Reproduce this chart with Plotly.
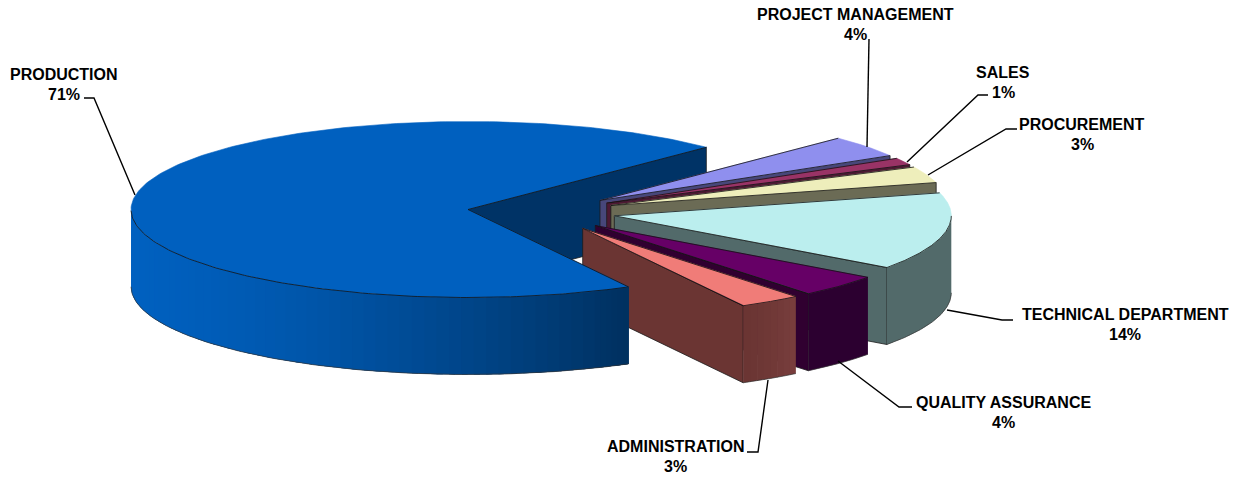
import numpy as np
import plotly.graph_objects as go

# ---- data, in the pie's drawing order (counter-clockwise from START_DEG)
categories = ["PRODUCTION", "ADMINISTRATION", "QUALITY ASSURANCE", "TECHNICAL DEPARTMENT",
              "PROCUREMENT", "SALES", "PROJECT MANAGEMENT"]
values = [70.4, 3.0, 4.1, 14.2, 3.0, 1.3, 4.0]
percent_labels = ["71%", "3%", "4%", "14%", "3%", "1%", "4%"]

# ---- style
top_colors = ["#0060BF", "#F07C78", "#660066", "#BBEEEE", "#EEEEBB", "#993366", "#8F8FEE"]
wall_colors = ["#003366", "#6B3533", "#300030", "#526A6A", "#6B6B55", "#4D1933", "#47477A"]
rim_from = ["#0060BF", "#6B3533", "#2C0030", "#526A6A", "#6B6B55", "#4D1933", "#47477A"]
rim_to = ["#00305F", "#7A3F3E", "#2C0030", "#526A6A", "#6B6B55", "#4D1933", "#47477A"]
label_x = [64, 675, 1003, 1125, 1082, 1003, 855]
label_y = [74, 446, 402, 314, 124, 72, 14]
leaders_x = [[84, 94, 135], [747, 758, 768], [912, 899, 838], [1013, 1002, 947],
             [1017, 1006, 928], [988, 978, 907], [869, 867]]
leaders_y = [[98, 98, 195], [452, 452, 380], [407, 407, 361], [320, 320, 310],
             [129, 129, 175], [95, 95, 162], [39, 147]]

START_DEG = 45.0
CX, CY, RX, RY = 541.4, 212.3, 337.0, 88.0
PULL = 0.22
DEPTH = 77.0

fracs = np.array(values) / sum(values)
edges = START_DEG + 360 * np.concatenate([[0], np.cumsum(fracs)])


def hex2rgb(h):
    return np.array([int(h[i:i + 2], 16) for i in (1, 3, 5)], float)


def mix(a, b, t):
    c = hex2rgb(a) * (1 - t) + hex2rgb(b) * t
    return "rgb(%d,%d,%d)" % tuple(c.round())


def apex(i):
    m = np.radians((edges[i] + edges[i + 1]) / 2)
    return CX + PULL * RX * np.cos(m), CY - PULL * RY * np.sin(m)


def rim(i, deg):
    ax, ay = apex(i)
    t = np.radians(deg)
    return ax + RX * np.cos(t), ay - RY * np.sin(t)


fig = go.Figure()


def poly(xs, ys, fill, line=None, width=0.8):
    fig.add_trace(go.Scatter(x=list(xs), y=list(ys), mode="lines", fill="toself", fillcolor=fill,
                             line=dict(color=line or fill, width=width if line else 0.6),
                             hoverinfo="skip", showlegend=False))


def stroke(xs, ys, color="#111111", width=0.8):
    fig.add_trace(go.Scatter(x=list(xs), y=list(ys), mode="lines",
                             line=dict(color=color, width=width),
                             hoverinfo="skip", showlegend=False))


def walls(i):
    ax, ay = apex(i)
    for d, visible in ((edges[i], np.cos(np.radians(edges[i])) > 0),
                       (edges[i + 1], np.cos(np.radians(edges[i + 1])) < 0)):
        if visible:
            x, y = rim(i, d)
            poly([ax, x, x, ax, ax], [ay, y, y + DEPTH, ay + DEPTH, ay], wall_colors[i], "#1a1a1a")


def rim_wall(i):
    degs = np.array([d for d in np.linspace(edges[i], edges[i + 1], 241)
                     if np.sin(np.radians(d)) < 0])
    if len(degs) < 2:
        return
    if rim_from[i] == rim_to[i]:
        n = 1
    else:
        n = 60 if i == 0 else 8
    parts = np.array_split(degs, n)
    x_all = rim(i, degs)[0]
    x0, x1 = x_all.min(), x_all.max()
    for k, p in enumerate(parts):
        # each strip runs on under the next one, so no seam shows between them
        later = degs[degs >= p[0]]
        seg = later[:len(p) + 4]
        xs, ys = rim(i, seg)
        t = ((xs[0] - x0) / max(x1 - x0, 1)) ** 1.4
        color = mix(rim_from[i], rim_to[i], t)
        fig.add_trace(go.Scatter(x=list(np.concatenate([xs, xs[::-1], xs[:1]])),
                                 y=list(np.concatenate([ys, ys[::-1] + DEPTH, ys[:1]])),
                                 mode="none", fill="toself", fillcolor=color,
                                 hoverinfo="skip", showlegend=False))
    xs, ys = rim(i, degs)
    stroke(xs, ys + DEPTH, "#333333", 0.7)


def top(i):
    ax, ay = apex(i)
    degs = np.linspace(edges[i], edges[i + 1], 240)
    xs, ys = rim(i, degs)
    poly(np.concatenate([[ax], xs, [ax]]), np.concatenate([[ay], ys, [ay]]), top_colors[i])
    stroke([ax, xs[0]], [ay, ys[0]])
    stroke([ax, xs[-1]], [ay, ys[-1]])
    front = degs[np.sin(np.radians(degs)) < 0]
    if len(front) > 1:
        fx, fy = rim(i, front)
        stroke(fx, fy)


# production's cut face sits behind the pulled-out slices, its top and rim in front
walls(0)
for i in [6, 5, 4, 3, 2, 1]:
    walls(i)
    rim_wall(i)
    top(i)
rim_wall(0)
top(0)

# leaders
for lx, ly in zip(leaders_x, leaders_y):
    stroke(lx, ly, "black", 1.4)

# labels
font = dict(family="Liberation Sans", size=16, color="black")
ann = []
for name, pct, x, y in zip(categories, percent_labels, label_x, label_y):
    ann.append(dict(x=x, y=y, text="<b>%s</b>" % name, showarrow=False, font=font,
                    xref="x", yref="y", xanchor="center", yanchor="middle"))
    ann.append(dict(x=x, y=y + 20, text="<b>%s</b>" % pct, showarrow=False, font=font,
                    xref="x", yref="y", xanchor="center", yanchor="middle"))

fig.update_layout(
    width=1239, height=477, autosize=False,
    margin=dict(l=0, r=0, t=0, b=0),
    paper_bgcolor="white", plot_bgcolor="white",
    showlegend=False, annotations=ann,
    xaxis=dict(range=[0, 1239], visible=False, fixedrange=True),
    yaxis=dict(range=[477, 0], visible=False, fixedrange=True),
)
fig.write_html("out.html", config=dict(displayModeBar=False),
               post_script="document.body.style.margin='0';")
